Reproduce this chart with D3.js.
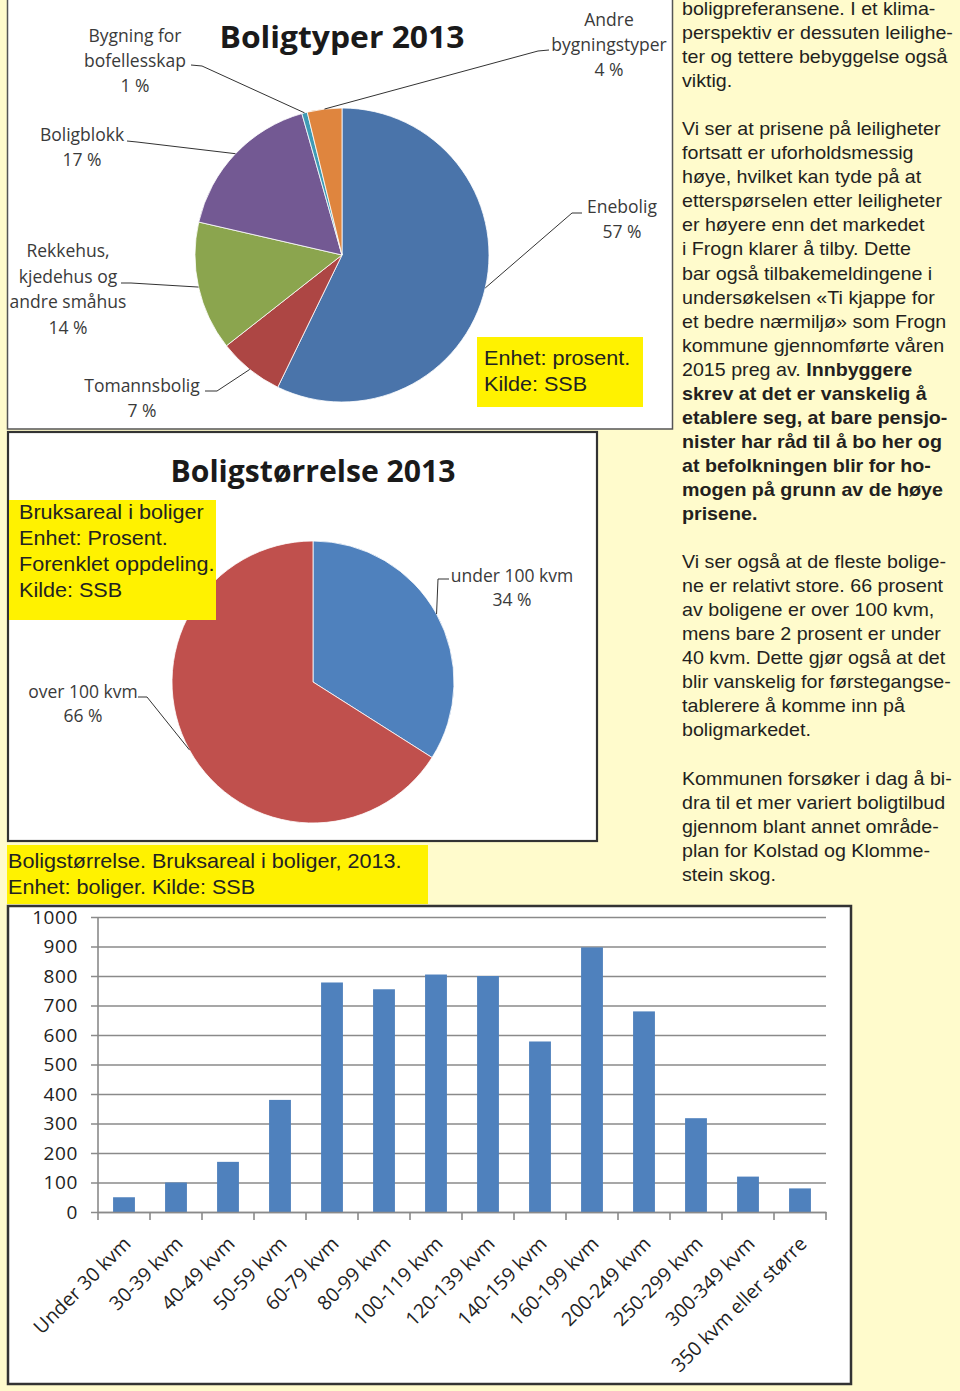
<!DOCTYPE html>
<html><head><meta charset="utf-8">
<script src="https://cdn.jsdelivr.net/npm/d3@7/dist/d3.min.js"></script>
<style>
html,body{margin:0;padding:0;background:#fffbcc;}
svg{display:block;}
</style></head><body>
<svg id="c" width="960" height="1391"></svg>
<script>
// ---------- DATA ----------
const typeTitle = "Boligtyper 2013";
const typeLabels = [["Enebolig"], ["Tomannsbolig"], ["Rekkehus,", "kjedehus og", "andre småhus"], ["Boligblokk"], ["Bygning for", "bofellesskap"], ["Andre", "bygningstyper"]];
const typeValues = [57.2, 7.2, 14.2, 17.0, 0.6, 3.8];
const typeColors = ["#4a74aa", "#ad4644", "#8ba54e", "#735993", "#3f9bb5", "#df853e"];

const sizeTitle = "Boligstørrelse 2013";
const sizeLabels = [["under 100 kvm"], ["over 100 kvm"]];
const sizeValues = [34, 66];
const sizeColors = ["#4f81bd", "#c0504d"];

const barCategories = ["Under 30 kvm", "30-39 kvm", "40-49 kvm", "50-59 kvm", "60-79 kvm", "80-99 kvm", "100-119 kvm", "120-139 kvm", "140-159 kvm", "160-199 kvm", "200-249 kvm", "250-299 kvm", "300-349 kvm", "350 kvm eller større"];
const barValues = [50, 100, 170, 380, 778, 755, 805, 800, 578, 897, 680, 318, 120, 80];
const yTicks = [0, 100, 200, 300, 400, 500, 600, 700, 800, 900, 1000];

const noteTop = ["Enhet: prosent.", "Kilde: SSB"];
const noteMid = ["Bruksareal i boliger", "Enhet: Prosent.", "Forenklet oppdeling.", "Kilde: SSB"];
const noteBar = ["Boligstørrelse. Bruksareal i boliger, 2013.", "Enhet: boliger. Kilde: SSB"];

// right column text; segments [text, bold]
const bodyLines = [
  [["boligpreferansene. I et klima-", 0]],
  [["perspektiv er dessuten leilighe-", 0]],
  [["ter og tettere bebyggelse også", 0]],
  [["viktig.", 0]],
  [],
  [["Vi ser at prisene på leiligheter", 0]],
  [["fortsatt er uforholdsmessig", 0]],
  [["høye, hvilket kan tyde på at", 0]],
  [["etterspørselen etter leiligheter", 0]],
  [["er høyere enn det markedet", 0]],
  [["i Frogn klarer å tilby. Dette", 0]],
  [["bar også tilbakemeldingene i", 0]],
  [["undersøkelsen «Ti kjappe for", 0]],
  [["et bedre nærmiljø» som Frogn", 0]],
  [["kommune gjennomførte våren", 0]],
  [["2015 preg av. ", 0], ["Innbyggere", 1]],
  [["skrev at det er vanskelig å", 1]],
  [["etablere seg, at bare pensjo-", 1]],
  [["nister har råd til å bo her og", 1]],
  [["at befolkningen blir for ho-", 1]],
  [["mogen på grunn av de høye", 1]],
  [["prisene.", 1]],
  [],
  [["Vi ser også at de fleste bolige-", 0]],
  [["ne er relativt store. 66 prosent", 0]],
  [["av boligene er over 100 kvm,", 0]],
  [["mens bare 2 prosent er under", 0]],
  [["40 kvm. Dette gjør også at det", 0]],
  [["blir vanskelig for førstegangse-", 0]],
  [["tablerere å komme inn på", 0]],
  [["boligmarkedet.", 0]],
  [],
  [["Kommunen forsøker i dag å bi-", 0]],
  [["dra til et mer variert boligtilbud", 0]],
  [["gjennom blant annet område-", 0]],
  [["plan for Kolstad og Klomme-", 0]],
  [["stein skog.", 0]]
];

// ---------- DRAW ----------
const svg = d3.select("#c");
const LABEL_FONT = "'Open Sans', 'DejaVu Sans', sans-serif";
const TITLE_FONT = "'Open Sans', 'DejaVu Sans', sans-serif";
const ARIAL = "'Liberation Sans', Arial, sans-serif";

// frames
svg.append("rect").attr("x", 7.5).attr("y", -2).attr("width", 665).attr("height", 431)
  .attr("fill", "#fff").attr("stroke", "#555").attr("stroke-width", 1.5);
svg.append("rect").attr("x", 8).attr("y", 432).attr("width", 589).attr("height", 409)
  .attr("fill", "#fff").attr("stroke", "#333").attr("stroke-width", 2.2);
svg.append("rect").attr("x", 8).attr("y", 906).attr("width", 843).attr("height", 478)
  .attr("fill", "#fff").attr("stroke", "#333").attr("stroke-width", 2.5);

function drawPie(cfg) {
  const g = svg.append("g").attr("transform", `translate(${cfg.cx},${cfg.cy})`);
  const arcs = d3.pie().sort(null).value(d => d)(cfg.values);
  const arc = d3.arc().innerRadius(0).outerRadius(cfg.r);
  g.selectAll("path").data(arcs).join("path")
    .attr("d", arc)
    .attr("fill", (d, i) => cfg.colors[i])
    .attr("stroke", "#fff").attr("stroke-width", 0.8);
  // title
  svg.append("text").attr("x", cfg.titleX).attr("y", cfg.titleY)
    .attr("text-anchor", "middle").attr("font-family", TITLE_FONT)
    .attr("font-weight", 700).attr("font-size", 30).attr("fill", "#1a1a1a")
    .attr("textLength", cfg.titleW).attr("lengthAdjust", "spacingAndGlyphs")
    .text(cfg.title);
  // labels + leaders
  arcs.forEach((a, i) => {
    const L = cfg.layout[i];
    const mid = (a.startAngle + a.endAngle) / 2;
    const px = cfg.cx + cfg.r * Math.sin(mid), py = cfg.cy - cfg.r * Math.cos(mid);
    svg.append("polyline")
      .attr("points", [[L.lx, L.ly], [L.ex, L.ey], [px, py]].map(p => p.join(",")).join(" "))
      .attr("fill", "none").attr("stroke", "#333").attr("stroke-width", 1);
    const lines = cfg.labels[i].concat([Math.round(a.data) + " %"]);
    const t = svg.append("text").attr("text-anchor", "middle")
      .attr("font-family", LABEL_FONT).attr("font-size", 17.5).attr("fill", "#3a3a3a");
    lines.forEach((s, k) => {
      t.append("tspan").attr("x", L.x).attr("y", L.y + k * L.step).text(s);
    });
  });
}

drawPie({
  cx: 342, cy: 255, r: 147, values: typeValues, colors: typeColors, labels: typeLabels,
  title: typeTitle, titleX: 342, titleY: 48, titleW: 245,
  layout: [
    {x: 622, y: 213, step: 25, lx: 582, ly: 213, ex: 572, ey: 213},
    {x: 142, y: 392, step: 25, lx: 205, ly: 391, ex: 217, ey: 391},
    {x: 68, y: 257, step: 25.5, lx: 121, ly: 283, ex: 131, ey: 283},
    {x: 82, y: 141, step: 25, lx: 127, ly: 141, ex: 137, ey: 142},
    {x: 135, y: 42, step: 25, lx: 191, ly: 65, ex: 202, ey: 66},
    {x: 609, y: 26, step: 25, lx: 549, ly: 50, ex: 538, ey: 51}
  ]
});

drawPie({
  cx: 313, cy: 682, r: 141, values: sizeValues, colors: sizeColors, labels: sizeLabels,
  title: sizeTitle, titleX: 313, titleY: 482, titleW: 285,
  layout: [
    {x: 512, y: 582, step: 24, lx: 449, ly: 579, ex: 438, ey: 579},
    {x: 83, y: 698, step: 24, lx: 138, ly: 697, ex: 147, ey: 697}
  ]
});

// yellow notes
function note(x, y, w, h, lines, tx, ty, step) {
  svg.append("rect").attr("x", x).attr("y", y).attr("width", w).attr("height", h).attr("fill", "#fff200");
  const t = svg.append("text").attr("font-family", ARIAL).attr("font-size", 20).attr("fill", "#222")
    .attr("transform", `translate(${tx},0) scale(1.08,1)`);
  lines.forEach((s, k) => t.append("tspan").attr("x", 0).attr("y", ty + k * step).text(s));
}
note(477, 337, 166, 70, noteTop, 484, 365, 26);
note(9, 500, 207, 120, noteMid, 19, 519, 26);
note(7, 845, 421, 59, noteBar, 8, 868, 26);

// ---------- BAR CHART ----------
const x = d3.scaleBand().domain(barCategories).range([98, 826]).padding(0);
const y = d3.scaleLinear().domain([0, 1000]).range([1212, 917]);
const plotW = 826 - 98;

const yAxis = svg.append("g").attr("transform", "translate(98,0)")
  .call(d3.axisLeft(y).tickValues(yTicks).tickSize(-plotW).tickPadding(20).tickFormat(d3.format("d")));
yAxis.select(".domain").remove();
yAxis.selectAll(".tick line").attr("x1", -7).attr("x2", plotW).attr("stroke", "#8a8a8a").attr("stroke-width", 1.6);
yAxis.selectAll(".tick text").attr("font-family", LABEL_FONT).attr("font-size", 19)
  .attr("letter-spacing", 0.6).attr("fill", "#222").attr("x", -20);

svg.append("line").attr("x1", 98).attr("x2", 98).attr("y1", y(1000)).attr("y2", y(0))
  .attr("stroke", "#8a8a8a").attr("stroke-width", 1.6);

const bw = x.bandwidth() * 0.42;
svg.append("g").selectAll("rect").data(barValues).join("rect")
  .attr("x", (d, i) => x(barCategories[i]) + (x.bandwidth() - bw) / 2)
  .attr("y", d => y(d)).attr("width", bw).attr("height", d => y(0) - y(d))
  .attr("fill", "#4f81bd");

const xAxis = svg.append("g").attr("transform", `translate(0,${y(0)})`)
  .call(d3.axisBottom(x).tickSize(0).tickFormat(""));
xAxis.select(".domain").attr("stroke", "#8a8a8a").attr("stroke-width", 1.6);
// category boundary ticks
const bounds = barCategories.map(c => x(c)).concat([x(barCategories[barCategories.length - 1]) + x.bandwidth()]);
svg.append("g").selectAll("line").data(bounds).join("line")
  .attr("x1", d => d).attr("x2", d => d).attr("y1", y(0)).attr("y2", y(0) + 8)
  .attr("stroke", "#8a8a8a").attr("stroke-width", 1.6);

svg.append("g").selectAll("text").data(barCategories).join("text")
  .attr("transform", d => `translate(${x(d) + x.bandwidth() / 2 + 8},${y(0) + 33}) rotate(-45)`)
  .attr("text-anchor", "end").attr("font-family", LABEL_FONT).attr("font-size", 19.5)
  .attr("fill", "#222").text(d => d);

// ---------- RIGHT COLUMN ----------
const body = svg.append("text").attr("font-family", ARIAL).attr("font-size", 18.2).attr("fill", "#231f20")
  .attr("transform", "translate(682,0) scale(1.08,1)");
bodyLines.forEach((segs, i) => {
  segs.forEach((s, k) => {
    const ts = body.append("tspan").text(s[0]).attr("font-weight", s[1] ? 700 : 400);
    if (k === 0) ts.attr("x", 0).attr("y", 15 + i * 24.05);
  });
});
</script>
</body></html>
